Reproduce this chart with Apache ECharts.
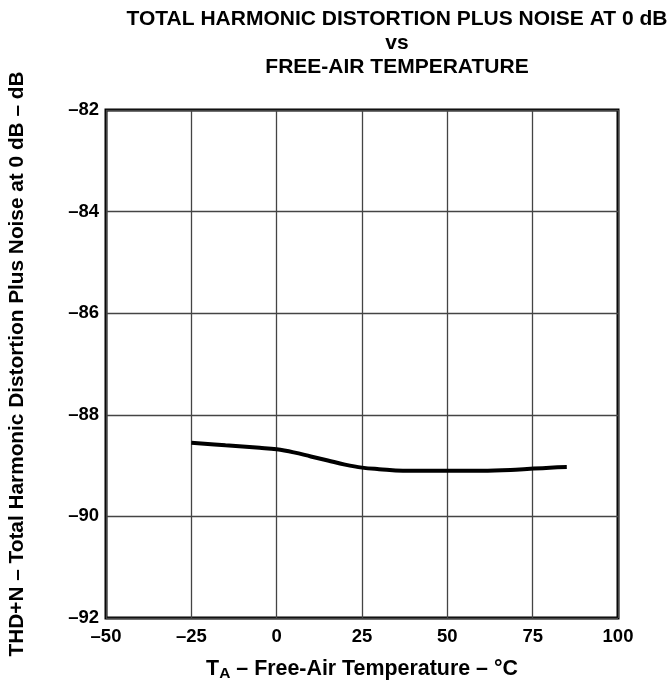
<!DOCTYPE html>
<html>
<head>
<meta charset="utf-8">
<script src="https://cdn.jsdelivr.net/npm/echarts@6/dist/echarts.min.js"></script>
<style>html,body{margin:0;padding:0;background:#fff}#c{width:667px;height:683px}</style>
</head>
<body>
<div id="c"></div>
<script>
var temps = [-25, -15, -5, 0, 5, 10, 15, 20, 25, 30, 37, 50, 60, 70, 80, 85];
var thdn  = [-88.55, -88.6, -88.65, -88.68, -88.74, -88.82, -88.9, -88.98, -89.04, -89.07, -89.1, -89.1, -89.1, -89.08, -89.04, -89.03];
var xTicks = [-50, -25, 0, 25, 50, 75, 100];
var yTicks = [-92, -90, -88, -86, -84, -82];

function fmt(v){ return v < 0 ? '\u2013' + Math.abs(v) : String(v); }

var data = temps.map(function(t,i){ return [t, thdn[i]]; });
var font = 'Liberation Sans, Arial, Helvetica, sans-serif';
var chart = echarts.init(document.getElementById('c'));
chart.setOption({
  animation: false,
  backgroundColor: '#fff',
  title: {
    text: 'TOTAL HARMONIC DISTORTION PLUS NOISE AT 0 dB\nvs\nFREE-AIR TEMPERATURE',
    left: 392, top: 2, textAlign: 'center',
    textStyle: { fontFamily: font, fontWeight: 'bold', fontSize: 21, lineHeight: 24, color: '#000' }
  },
  grid: { left: 106, right: 49, top: 110, bottom: 65, outerBoundsMode: 'none', containLabel: false, show: true, borderColor: '#000', borderWidth: 3, backgroundColor: 'transparent' },
  xAxis: {
    type: 'value', min: -50, max: 100, interval: 25,
    name: '{m|T}{s|A}{m| \u2013 Free-Air Temperature \u2013 \u00B0C}',
    nameLocation: 'middle', nameGap: 38,
    nameTextStyle: { rich: {
      m: { fontFamily: font, fontWeight: 'bold', fontSize: 21.4, color: '#000' },
      s: { fontFamily: font, fontWeight: 'bold', fontSize: 15.5, color: '#000', verticalAlign: 'bottom', padding: [10,0,0,0] }
    } },
    axisLine: { show: false }, axisTick: { show: false },
    axisLabel: { formatter: fmt, fontFamily: font, fontWeight: 'bold', fontSize: 18.5, color: '#000', margin: 9 },
    splitLine: { show: true, lineStyle: { color: '#444', width: 1.3 } }
  },
  yAxis: {
    type: 'value', min: -92, max: -82, interval: 2,
    name: 'THD+N \u2013 Total Harmonic Distortion Plus Noise at 0 dB \u2013 dB',
    nameLocation: 'middle', nameGap: 78, nameRotate: 90,
    nameTextStyle: { fontFamily: font, fontWeight: 'bold', fontSize: 20.8, color: '#000' },
    axisLine: { show: false }, axisTick: { show: false },
    axisLabel: { formatter: fmt, fontFamily: font, fontWeight: 'bold', fontSize: 18.5, color: '#000', margin: 7 },
    splitLine: { show: true, lineStyle: { color: '#444', width: 1.3 } }
  },
  series: [{
    type: 'line', data: data, smooth: 0.4, symbol: 'none',
    lineStyle: { color: '#000', width: 4 }
  }]
});
</script>
</body>
</html>
